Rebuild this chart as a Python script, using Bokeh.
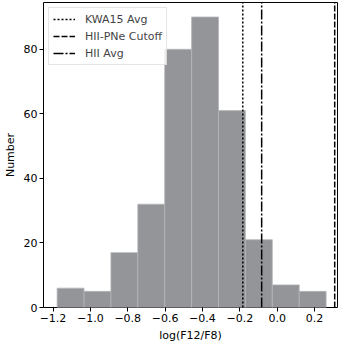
from bokeh.plotting import figure
from bokeh.models import FixedTicker, Range1d, Legend, LegendItem
from bokeh.embed import file_html
from bokeh.resources import INLINE

# histogram data (bin edges and counts)
bin_left = [-1.178, -1.034, -0.890, -0.746, -0.602, -0.458, -0.314, -0.170, -0.026, 0.118]
bin_right = [-1.034, -0.890, -0.746, -0.602, -0.458, -0.314, -0.170, -0.026, 0.118, 0.262]
counts = [6, 5, 17, 32, 80, 90, 61, 21, 7, 5]

# vertical reference lines
kwa15_avg = -0.184
hii_pne_cutoff = 0.308
hii_avg = -0.083

x_ticks = [-1.2, -1.0, -0.8, -0.6, -0.4, -0.2, 0.0, 0.2]
x_tick_labels = ["\u22121.2", "\u22121.0", "\u22120.8", "\u22120.6", "\u22120.4", "\u22120.2", "0.0", "0.2"]
y_ticks = [0, 20, 40, 60, 80]

FONT = "DejaVu Sans"
Y_TOP = 94.5

p = figure(width=341, height=344, output_backend="svg", toolbar_location=None,
           x_range=Range1d(-1.251, 0.323), y_range=Range1d(0, Y_TOP),
           min_border_left=8, min_border_right=4, min_border_top=2, min_border_bottom=4)

p.quad(left=bin_left, right=bin_right, top=counts, bottom=0,
       fill_color="#939598", line_color="#b4b5b8", line_width=0.8)

r1 = p.line(x=[kwa15_avg, kwa15_avg], y=[0, Y_TOP],
            line_color="black", line_width=1.5, line_dash="2 2")
r2 = p.line(x=[hii_pne_cutoff, hii_pne_cutoff], y=[0, Y_TOP],
            line_color="black", line_width=1.5, line_dash="6 2")
r3 = p.line(x=[hii_avg, hii_avg], y=[0, Y_TOP],
            line_color="black", line_width=1.5, line_dash="10 2 2 2")

legend = Legend(items=[LegendItem(label="KWA15 Avg", renderers=[r1]),
                       LegendItem(label="HII-PNe Cutoff", renderers=[r2]),
                       LegendItem(label="HII Avg", renderers=[r3])],
                location="top_left")
legend.label_text_font = FONT
legend.label_text_font_size = "11px"
legend.label_height = 14
legend.glyph_height = 14
legend.glyph_width = 22
legend.spacing = 3
legend.padding = 4
legend.margin = 5
legend.label_standoff = 10
legend.border_line_color = "#cccccc"
legend.border_line_width = 1
legend.background_fill_alpha = 0.8
p.add_layout(legend)

p.xgrid.visible = False
p.ygrid.visible = False
p.outline_line_color = "black"
p.outline_line_width = 1

p.xaxis.ticker = FixedTicker(ticks=x_ticks)
p.xaxis.major_label_overrides = {t: l for t, l in zip(x_ticks, x_tick_labels)}
p.yaxis.ticker = FixedTicker(ticks=y_ticks)
p.xaxis.axis_label = "log(F12/F8)"
p.yaxis.axis_label = "Number"

for ax in (p.xaxis[0], p.yaxis[0]):
    ax.axis_line_color = None
    ax.major_tick_in = 0
    ax.major_tick_out = 4
    ax.minor_tick_out = 0
    ax.minor_tick_in = 0
    ax.major_tick_line_color = "black"
    ax.major_label_text_font = FONT
    ax.major_label_text_font_size = "11px"
    ax.major_label_text_color = "black"
    ax.major_label_standoff = 2
    ax.axis_label_text_font = FONT
    ax.axis_label_text_font_size = "11px"
    ax.axis_label_text_font_style = "normal"
    ax.axis_label_text_color = "black"
    ax.axis_label_standoff = 4

open("out.html", "w").write(file_html(p, INLINE))
